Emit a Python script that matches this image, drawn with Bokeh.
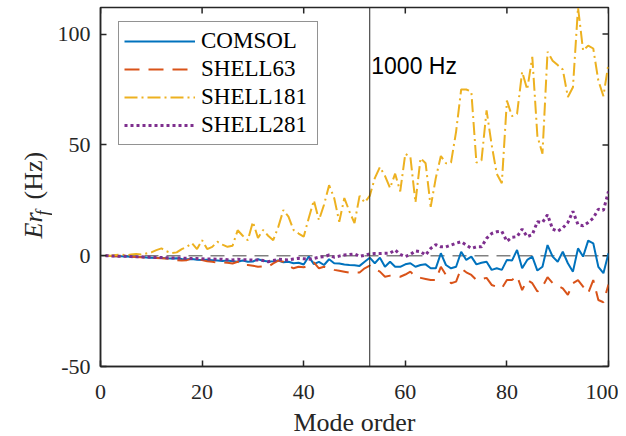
from bokeh.plotting import figure
from bokeh.models import (ColumnDataSource, FixedTicker, Span, Label,
                          Legend, LegendItem, Range1d)
from bokeh.layouts import row
from bokeh.embed import file_html
from bokeh.resources import INLINE
import math

# ---------------- data ----------------
mode = list(range(1, 101))

comsol = [0, -0.1, -0.2, -0.3, -0.4, -0.5, -0.5, -0.6, -0.8, -0.9,
          -1.0, -1.0, -1.2, -1.3, -1.2, -1.5, -1.6, -1.5, -1.8, -1.9,
          -1.8, -2.0, -2.2, -2.4, -2.2, -2.5, -2.7, -2.2, -2.7, -2.6,
          -1.6, -2.3, -2.6, -2.5, -2.2, -3.0, -2.7, -3.4, -3.2, -4.0,
          -0.4, -3.8, -2.8, -4.2, -1.6, -3.4, -3.5, -4.0, -4.2, -4.3,
          -4.6, -2.7, -0.9, -3.4, -0.9, -5.0, -2.7, -5.0, -5.0, -3.9,
          -3.4, -5.0, -4.2, -3.9, -5.7, -5.7, 1.1, -4.2, -5.7, -5.0,
          1.8, -1.9, -0.4, -3.9, -3.2, -2.7, -6.4, -5.7, -6.4, -1.9,
          -2.2, 2.6, -5.7, -1.9, -0.4, -6.7, -5.0, 4.8, -0.4, -2.7,
          1.8, -3.4, -7.2, 3.3, -0.4, 6.8, 5.6, -5.0, -7.9, 1.1]

shell63 = [0, -0.1, -0.2, -0.3, -0.4, -0.5, -0.6, -0.7, -0.8, -0.9,
           -1.0, -1.1, -1.3, -1.5, -2.0, -2.2, -2.0, -1.2, -1.0, -2.0,
           -2.5, -2.7, -3.2, -3.0, -3.2, -3.5, -2.7, -4.2, -4.2, -4.5,
           -5.0, -4.8, -5.0, -3.5, -2.2, -2.7, -4.5, -5.7, -5.0, -5.2,
           -4.5, -3.0, -5.7, -5.0, -5.7, -6.4, -6.8, -7.2, -7.6, -7.6,
           -7.6, -5.7, -4.5, -6.0, -7.2, -9.5, -9.0, -9.2, -9.5, -8.5,
           -7.2, -9.5, -10.0, -10.5, -11.0, -11.0, -5.0, -8.7, -12.4, -11.7,
           -5.7, -7.5, -8.7, -11.0, -10.5, -10.0, -13.2, -14.0, -14.7, -11.0,
           -11.0, -9.1, -15.5, -11.0, -12.4, -16.2, -14.0, -9.7, -12.4, -13.5,
           -14.7, -17.7, -12.4, -11.0, -14.0, -16.9, -11.0, -20.0, -21.0, -13.0]

shell181 = [0, 0, 0.3, 0.5, 0.2, 0.5, 0.8, 0.5, 1.0, 1.5,
            2.5, 3.3, 2.0, 1.2, 1.5, 3.0, 4.0, 5.7, 3.0, 7.0,
            3.0, 4.0, 6.3, 5.0, 4.0, 4.5, 11.5, 9.0, 7.0, 15.3,
            8.0, 11.6, 9.0, 7.0, 13.0, 20.6, 17.6, 11.6, 10.0, 8.6,
            17.0, 25.0, 16.0, 23.0, 31.8, 26.0, 15.3, 26.0, 20.0, 14.7,
            27.0, 24.0, 27.0, 35.0, 40.0, 36.0, 30.5, 37.0, 29.0, 46.0,
            44.6, 24.0, 44.0, 41.7, 22.0, 35.0, 45.0, 41.7, 42.0, 56.0,
            75.0, 75.0, 74.0, 42.0, 43.0, 65.6, 50.0, 37.0, 32.7, 70.0,
            63.0, 64.0, 83.0, 75.0, 89.7, 54.0, 46.0, 92.0, 88.0, 86.0,
            84.0, 71.6, 76.0, 112.0, 92.6, 94.8, 93.5, 79.0, 72.0, 86.7]

shell281 = [0, -0.1, -0.2, -0.3, -0.3, -0.4, -0.5, -0.5, -0.6, -0.7,
            -0.8, -0.8, -0.9, -1.0, -1.0, -1.1, -1.2, -1.3, -1.3, -1.4,
            -1.5, -1.5, -1.6, -1.6, -1.8, -1.9, -1.6, -1.8, -1.9, -1.9,
            -1.9, -2.2, -2.7, -2.2, -1.6, -1.8, -1.9, -1.5, -1.2, -1.4,
            -1.6, -1.2, -0.7, -0.5, 0.3, -0.7, -0.2, 0.3, 0.5, 0.8,
            -0.3, 0.2, 0.8, 1.0, 1.0, 1.1, 1.2, 2.6, 0.6, -0.4,
            0.5, 2.2, 1.8, 0.3, 3.3, 5.0, 4.0, 4.0, 4.8, 5.6,
            6.3, 4.8, 3.3, 4.0, 4.0, 7.8, 10.0, 10.8, 11.0, 6.5,
            8.3, 8.6, 12.0, 8.6, 9.5, 15.3, 15.0, 18.5, 12.0, 11.0,
            12.5, 15.0, 20.0, 14.0, 13.5, 15.0, 17.0, 21.0, 20.5, 29.0]

series_names = ["COMSOL", "SHELL63", "SHELL181", "SHELL281"]
x_ticks = [0, 20, 40, 60, 80, 100]
y_ticks = [-50, 0, 50, 100]
x_lim = (0, 100)
y_lim = (-50, 112)
marker_mode = 53
marker_text = "1000 Hz"

# ---------------- layout constants ----------------
AX = "#262626"
SERIF = "Liberation Serif"
LAB_W = 52          # width of the y-label strip
FRAME_W, FRAME_H = 508, 359
TOP, BOTTOM, RIGHT = 7, 68, 10
LEFT = 100 - LAB_W
TOTAL_H = TOP + FRAME_H + BOTTOM
TICK = 6

# ---------------- main figure ----------------
p = figure(frame_width=FRAME_W, frame_height=FRAME_H,
           x_range=Range1d(*x_lim), y_range=Range1d(*y_lim),
           output_backend="svg", toolbar_location=None,
           min_border_left=LEFT, min_border_right=RIGHT,
           min_border_top=TOP, min_border_bottom=BOTTOM,
           x_axis_label="Mode order")
p.background_fill_color = "white"
p.border_fill_color = "white"
p.grid.visible = False
p.outline_line_color = AX
p.outline_line_width = 1.5

for ax, ticks in ((p.xaxis[0], x_ticks), (p.yaxis[0], y_ticks)):
    ax.ticker = FixedTicker(ticks=ticks)
    ax.major_label_overrides = {t: str(t) for t in ticks}
    ax.axis_line_color = AX
    ax.axis_line_width = 1.5
    ax.major_tick_line_color = AX
    ax.major_tick_line_width = 1.5
    ax.major_tick_in = TICK
    ax.major_tick_out = 0
    ax.minor_tick_line_color = None
    ax.major_label_text_font = SERIF
    ax.major_label_text_font_size = "22px"
    ax.major_label_text_color = AX

p.xaxis[0].major_label_standoff = 18
p.yaxis[0].major_label_standoff = 10
p.xaxis[0].axis_label_text_font = SERIF
p.xaxis[0].axis_label_text_font_size = "26px"
p.xaxis[0].axis_label_text_font_style = "normal"
p.xaxis[0].axis_label_text_color = AX
p.xaxis[0].axis_label_standoff = 6

# inward ticks on the top and right edges (MATLAB box)
dx_tick = TICK * (x_lim[1] - x_lim[0]) / FRAME_W
dy_tick = TICK * (y_lim[1] - y_lim[0]) / FRAME_H
p.segment(x0=x_ticks, y0=[y_lim[1]] * len(x_ticks),
          x1=x_ticks, y1=[y_lim[1] - dy_tick] * len(x_ticks),
          line_color=AX, line_width=1.5)
p.segment(x0=[x_lim[1]] * len(y_ticks), y0=y_ticks,
          x1=[x_lim[1] - dx_tick] * len(y_ticks), y1=y_ticks,
          line_color=AX, line_width=1.5)

# reference lines
p.add_layout(Span(location=0, dimension="width", line_color="#808080",
                  line_width=1.5, line_dash="14 8", level="underlay"))
p.add_layout(Span(location=marker_mode, dimension="height", line_color=AX,
                  line_width=1))

src = ColumnDataSource(dict(mode=mode, comsol=comsol, shell63=shell63,
                            shell181=shell181, shell281=shell281))

r1 = p.line("mode", "comsol", source=src, line_color="#0072BD", line_width=2)
r2 = p.line("mode", "shell63", source=src, line_color="#D95319", line_width=2,
            line_dash="15 9")
r3 = p.line("mode", "shell181", source=src, line_color="#EDB120", line_width=2,
            line_dash="13 4 2 4")
r4 = p.line("mode", "shell281", source=src, line_color="#7E2F8E", line_width=3,
            line_dash="3 3")

legend = Legend(items=[LegendItem(label=n, renderers=[r])
                       for n, r in zip(series_names, [r1, r2, r3, r4])],
                location=(18, 221))
legend.label_text_font = SERIF
legend.label_text_font_size = "23px"
legend.label_text_color = "black"
legend.glyph_width = 71
legend.glyph_height = 28
legend.label_height = 28
legend.label_width = 111
legend.label_standoff = 6
legend.spacing = 0
legend.padding = 5
legend.margin = 0
legend.border_line_color = AX
legend.border_line_width = 1
legend.background_fill_alpha = 1
p.add_layout(legend)

p.add_layout(Label(x=marker_mode + 0.3, y=85.4, text=marker_text,
                   text_font="Liberation Sans", text_font_size="23px",
                   text_color="black", text_baseline="alphabetic"))

# ---------------- y-label strip (rotated Er_f (Hz)) ----------------
q = figure(frame_width=LAB_W, frame_height=TOTAL_H,
           x_range=Range1d(0, LAB_W), y_range=Range1d(0, TOTAL_H),
           output_backend="svg", toolbar_location=None,
           x_axis_type=None, y_axis_type=None,
           min_border_left=0, min_border_right=0,
           min_border_top=0, min_border_bottom=0)
q.grid.visible = False
q.outline_line_color = None
q.background_fill_color = "white"
q.border_fill_color = "white"

q.add_layout(Label(x=32.5, y=TOTAL_H - 231, text="Er", angle=math.pi / 2,
                   text_font=SERIF, text_font_style="italic",
                   text_font_size="26px", text_color=AX,
                   text_baseline="alphabetic", text_align="left"))
q.add_layout(Label(x=42.5, y=TOTAL_H - 208, text="f", angle=math.pi / 2,
                   text_font=SERIF, text_font_style="italic",
                   text_font_size="18px", text_color=AX,
                   text_baseline="alphabetic", text_align="left"))
q.add_layout(Label(x=32.5, y=TOTAL_H - 192, text="(Hz)", angle=math.pi / 2,
                   text_font=SERIF, text_font_size="26px",
                   text_color=AX, text_baseline="alphabetic",
                   text_align="left"))

layout = row(q, p, spacing=0)
open("out.html", "w").write(file_html(layout, INLINE))
